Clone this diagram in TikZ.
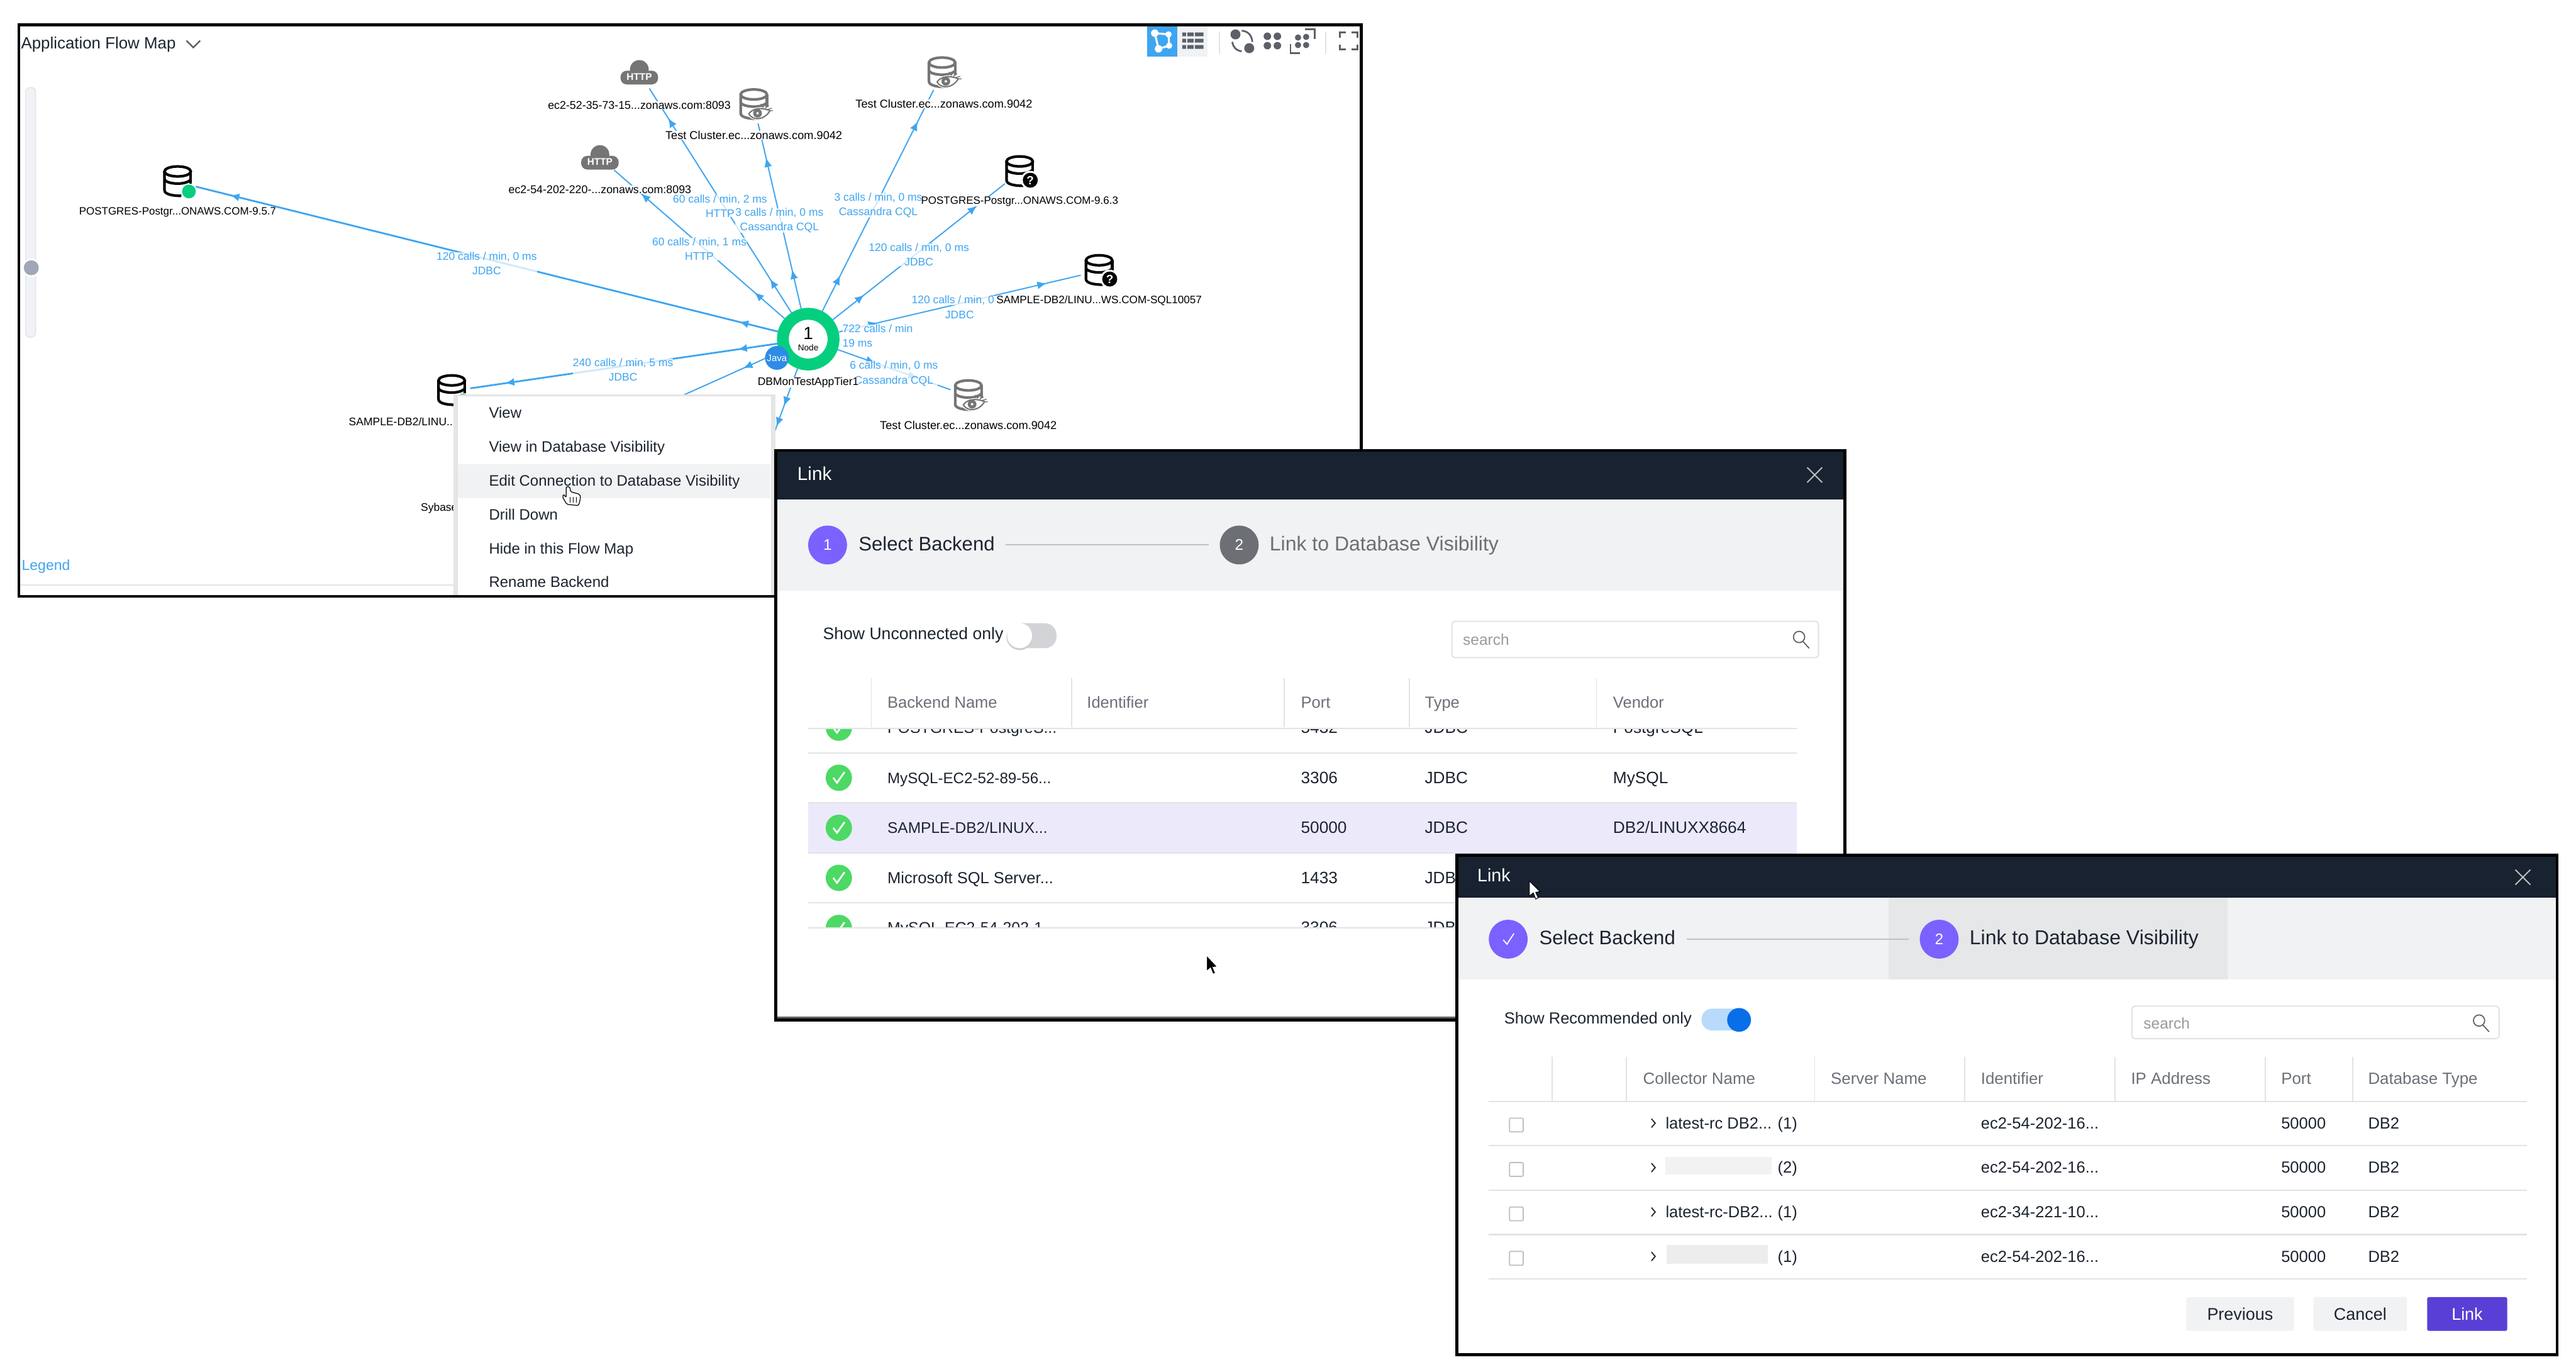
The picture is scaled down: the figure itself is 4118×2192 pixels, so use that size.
\documentclass[tikz,border=0pt]{standalone}
\usepackage{fontspec}
\setmainfont{Liberation Sans}
\usetikzlibrary{arrows.meta,decorations.markings}

\definecolor{flowblue}{HTML}{3FA5F0}
\definecolor{ringgreen}{HTML}{05CF7E}
\definecolor{javablue}{HTML}{2C8CE8}
\definecolor{cloudgray}{HTML}{757575}
\definecolor{toolgray}{HTML}{5C6068}
\definecolor{toolbg}{HTML}{F0F2F6}
\definecolor{headdark}{HTML}{182230}
\definecolor{bandgray}{HTML}{F1F2F4}
\definecolor{bandactive}{HTML}{E6E7E9}
\definecolor{stepviolet}{HTML}{7B61FF}
\definecolor{stepgray}{HTML}{6C6F73}
\definecolor{rowviolet}{HTML}{ECE9FB}
\definecolor{rulegray}{HTML}{E2E3E6}
\definecolor{inkdark}{HTML}{1C2430}
\definecolor{headink}{HTML}{6B7078}
\definecolor{okgreen}{HTML}{4CD964}
\definecolor{linkviolet}{HTML}{5A3FD6}
\definecolor{switchblue}{HTML}{0A6EEB}
\definecolor{switchpale}{HTML}{B9DBFB}
\definecolor{sliderknob}{HTML}{A0A7B8}

\tikzset{
  frame/.style={draw=black,line width=1.3pt},
  flow/.style={color=flowblue,line width=.55pt,postaction={decorate,decoration={markings,
      mark=at position .64cm with {\arrow{Latex[length=.15cm,width=.125cm]}},
      mark=at position -.56cm with {\arrow{Latex[length=.15cm,width=.125cm]}}}}},
  pics/dbcyl/.style={code={
      \draw[#1,line width=1.2pt] (0,-17) ellipse (21 and 8);
      \draw[#1,line width=1.2pt] (-21,-17) -- (-21,13) .. controls (-21,19) and (-10,22) .. (6,22);
      \draw[#1,line width=1.2pt] (-21,-4) .. controls (-18,3) and (12,6) .. (21,-4);
      \draw[#1,line width=1.2pt] (21,-17) -- (21,3);
  }},
  pics/dbgreen/.style={code={
      \pic {dbcyl=black};
      \fill[ringgreen] (18,15) circle (11);
  }},
  pics/dbask/.style={code={
      \pic {dbcyl=black};
      \fill[white] (17,13) circle (15);
      \fill[black] (17,13) circle (12);
      \node[white,inner sep=0,font=\bfseries\fontsize{5.4}{6}\selectfont] (-q) at (17,13) {?};
  }},
  pics/dbeye/.style={code={
      \pic {dbcyl=cloudgray};
      \fill[white] (-12,14) .. controls (-2,2) and (14,0) .. (30,8) -- (30,14) .. controls (16,28) and (-2,28) .. cycle;
      \draw[cloudgray,line width=.6pt] (-8,14) .. controls (-2,5) and (12,3) .. (26,9) .. controls (16,25) and (-2,25) .. cycle;
      \fill[cloudgray] (6,13) circle (7);
      \fill[white] (6,13) circle (2);
      \draw[cloudgray,line width=.4pt] (10,3) -- (12,-2) (14,4) -- (18,-1) (18,5) -- (24,1) (22,7) -- (29,5) (25,9) -- (31,9);
  }},
  pics/httpcloud/.style={code={
      \fill[cloudgray] (0,-5) circle (15);
      \fill[cloudgray,rounded corners=.1cm] (-30,-3) rectangle (30,19);
      \node[white,inner sep=0,font=\bfseries\fontsize{4.4}{5}\selectfont] (-t) at (0,7) {HTTP};
  }}
}

\begin{document}
\begin{tikzpicture}[x=.01cm,y=-.01cm]

  \useasboundingbox (0,0) rectangle (4118,2192);
  \fill[white] (0,0) rectangle (4118,2192);

  \fill[white] (30,40) rectangle (2176,953);
  \node[anchor=west,inner sep=0,text=inkdark,font=\fontsize{7.4}{9}\selectfont] (maptitle) at (33,71) {Application Flow Map};
  \draw[toolgray,line width=.7pt] (298,65) -- (309,76) -- (320,65);

  \fill[toolbg,draw=rulegray,rounded corners=.07cm] (41,140) rectangle (57,539);
  \fill[white] (50,428) circle (15);
  \fill[sliderknob] (50,428) circle (12);

  \fill[flowblue] (1834,42) rectangle (1882,90);
  \fill[toolbg] (1882,42) rectangle (1930,90);
  \draw[white,line width=.9pt] (1846,53) -- (1868,55) -- (1869,73) -- (1852,78) -- cycle;
  \fill[white] (1846,53) circle (6) (1868,55) circle (5) (1869,73) circle (5) (1852,78) circle (6);
  \fill[toolgray] (1890,52) rectangle (1896,58) (1898,52) rectangle (1908,58) (1910,52) rectangle (1924,58);
  \fill[toolgray] (1890,62) rectangle (1896,68) (1898,62) rectangle (1908,68) (1910,62) rectangle (1924,68);
  \fill[toolgray] (1890,72) rectangle (1896,78) (1898,72) rectangle (1908,78) (1910,72) rectangle (1924,78);
  \draw[rulegray,line width=.6pt] (1949,50) -- (1949,86) (2119,50) -- (2119,86);
  \fill[toolgray] (1975,55) circle (8) (1997,77) circle (8);
  \draw[toolgray,line width=.8pt] (1985,49) .. controls (1995,50) and (2001,56) .. (2002,67);
  \draw[toolgray,line width=.8pt] (1970,67) .. controls (1971,75) and (1976,81) .. (1985,82);
  \fill[toolgray] (2026,58) circle (6) (2042,58) circle (6) (2026,73) circle (6) (2042,73) circle (6);
  \fill[toolgray] (2075,60) circle (5) (2088,59) circle (5) (2075,72) circle (5) (2088,72) circle (5);
  \draw[toolgray,line width=.8pt] (2086,47) -- (2102,47) -- (2102,62) (2063,70) -- (2063,85) -- (2078,85);
  \draw[toolgray,line width=.8pt] (2142,60) -- (2142,52) -- (2151,52) (2161,52) -- (2170,52) -- (2170,60);
  \draw[toolgray,line width=.8pt] (2142,71) -- (2142,79) -- (2151,79) (2161,79) -- (2170,79) -- (2170,71);

  \begin{scope}[every node/.style={circle,inner sep=0,outer sep=0,minimum size=.6cm}]
    \node (pg957)  at (284,291)  {};
    \node (http52) at (1022,116) {};
    \node (http54) at (959,252)  {};
    \node (tca)    at (1205,168) {};
    \node (tcb)    at (1506,117) {};
    \node (pg963)  at (1630,275) {};
    \node (db2sql) at (1757,433) {};
    \node (tcc)    at (1548,633) {};
    \node (db2lin) at (722,625)  {};
  \end{scope}
  \coordinate (sybase) at (806,760);
  \coordinate (below) at (1222,735);
  \node[circle,inner sep=0,minimum size=.81cm,draw=ringgreen,line width=5.4pt,fill=white] (app) at (1292,542) {};

  \path (app) edge[flow,line width=.8pt] (pg957);
  \path (app) edge[flow] (http52);
  \path (app) edge[flow] (http54);
  \path (app) edge[flow] (tca);
  \path (app) edge[flow] (tcb);
  \path (app) edge[flow] (pg963);
  \path (app) edge[flow] (db2sql);
  \path (app) edge[flow] (tcc);
  \path (app) edge[flow,line width=.8pt] (db2lin);
  \path (app) edge[flow] (sybase);
  \path (app) edge[flow] (below);

  \node[circle,inner sep=0,minimum size=.38cm,fill=javablue,text=white,font=\fontsize{4.3}{5}\selectfont] (java) at (1242,572) {Java};
  \node[inner sep=0,font=\fontsize{8}{9}\selectfont] (appnum) at (1292,533) {1};
  \node[inner sep=0,font=\fontsize{3.9}{5}\selectfont] (appword) at (1292,556) {Node};

  \pic (pg957i) at (pg957) {dbgreen};
  \pic (http52i) at (http52) {httpcloud};
  \pic (http54i) at (http54) {httpcloud};
  \pic (tcai) at (tca) {dbeye};
  \pic (tcbi) at (tcb) {dbeye};
  \pic (pg963i) at (pg963) {dbask};
  \pic (db2sqli) at (db2sql) {dbask};
  \pic (tcci) at (tcc) {dbeye};
  \pic (db2lini) at (db2lin) {dbgreen};

  \begin{scope}[every node/.style={align=center,inner sep=0,text=flowblue,fill=white,fill opacity=.75,text opacity=1,font=\fontsize{5}{6.6}\selectfont}]
    \node (callsa) at (778,421)   {120 calls / min, 0 ms\\JDBC};
    \node (callsb) at (1151,329)  {60 calls / min, 2 ms\\HTTP};
    \node (callsc) at (1246,352)  {3 calls / min, 0 ms\\Cassandra CQL};
    \node (callsd) at (1404,328)  {3 calls / min, 0 ms\\Cassandra CQL};
    \node (callse) at (1118,398)  {60 calls / min, 1 ms\\HTTP};
    \node (callsf) at (1469,407)  {120 calls / min, 0 ms\\JDBC};
    \node[anchor=east] (callsg) at (1590,480) {120 calls / min, 0};
    \node (callsk) at (1534,503)  {JDBC};
    \node (callsh) at (1429,597)  {6 calls / min, 0 ms\\Cassandra CQL};
    \node (callsi) at (996,591)   {240 calls / min, 5 ms\\JDBC};
    \node[align=left,anchor=west] (callsj) at (1346,537) {722 calls / min\\19 ms};
  \end{scope}

  \begin{scope}[every node/.style={inner sep=0,fill=white,text=black,font=\fontsize{5}{6}\selectfont}]
    \node[font=\fontsize{4.85}{6}\selectfont] (pg957l) at (284,339) {POSTGRES-Postgr...ONAWS.COM-9.5.7};
    \node[font=\fontsize{5.1}{6}\selectfont] (http52l) at (1022,168) {ec2-52-35-73-15...zonaws.com:8093};
    \node[font=\fontsize{5.1}{6}\selectfont] (http54l) at (959,303) {ec2-54-202-220-...zonaws.com:8093};
    \node[font=\fontsize{5.2}{6}\selectfont] (tcal) at (1205,216) {Test Cluster.ec...zonaws.com.9042};
    \node[font=\fontsize{5.2}{6}\selectfont] (tcbl) at (1509,166) {Test Cluster.ec...zonaws.com.9042};
    \node[font=\fontsize{4.85}{6}\selectfont] (pg963l) at (1630,322) {POSTGRES-Postgr...ONAWS.COM-9.6.3};
    \node[font=\fontsize{4.9}{6}\selectfont] (db2sqll) at (1757,480) {SAMPLE-DB2/LINU...WS.COM-SQL10057};
    \node[font=\fontsize{5.2}{6}\selectfont] (tccl) at (1548,680) {Test Cluster.ec...zonaws.com.9042};
    \node (appl) at (1292,611) {DBMonTestAppTier1};
    \node[anchor=west] (db2linl) at (557,674) {SAMPLE-DB2/LINU...WS};
    \node[anchor=west] (sybasel) at (672,812) {Sybase};
  \end{scope}
  \node[anchor=west,inner sep=0,text=flowblue,font=\fontsize{6.6}{8}\selectfont] (legend) at (34,905) {Legend};
  \draw[rulegray,line width=.6pt] (32,935) -- (730,935);

  \fill[black!10] (725,630) rectangle (1240,953);
  \fill[white,draw=rulegray,line width=.5pt] (731,633) rectangle (1233,953);
  \fill[bandgray] (732,742) rectangle (1232,796);
  \begin{scope}[every node/.style={anchor=west,inner sep=0,text=inkdark,text height=.5em,text depth=0pt,font=\fontsize{6.87}{8}\selectfont}]
    \node (mview)   at (781,659) {View};
    \node (mvis)    at (781,714) {View in Database Visibility};
    \node (medit)   at (781,768) {Edit Connection to Database Visibility};
    \node (mdrill)  at (781,822) {Drill Down};
    \node (mhide)   at (781,876) {Hide in this Flow Map};
    \node (mrename) at (781,930) {Rename Backend};
  \end{scope}
  \draw[fill=white,line width=.35pt,rounded corners=.02cm] (905,778) -- (905,795) -- (901,790) -- (899,794) -- (906,806) -- (925,808) -- (928,796) -- (927,790) -- (912,786) -- (911,778) -- cycle;
  \draw[line width=.25pt] (911,794) -- (911,803) (916,794) -- (916,803) (921,794) -- (921,803);
  \draw[frame] (30,40) rectangle (2176,953);

  \fill[white] (1240,720) rectangle (2949,1630);
  \fill[headdark] (1240,720) rectangle (2949,798);
  \fill[bandgray] (1240,798) rectangle (2949,944);
  \node[anchor=west,inner sep=0,text=white,font=\fontsize{8.5}{10}\selectfont] (linktitle) at (1274,757) {Link};
  \draw[white!75!black,line width=.55pt] (2889,747) -- (2913,771) (2889,771) -- (2913,747);

  \begin{scope}[every node/.style={circle,inner sep=0,minimum size=.62cm,text=white,font=\fontsize{7}{8}\selectfont}]
    \node[fill=stepviolet] (stepa) at (1323,871) {1};
    \node[fill=stepgray] (stepb) at (1981,871) {2};
  \end{scope}
  \begin{scope}[every node/.style={anchor=west,inner sep=0,text height=.5em,text depth=0pt,font=\fontsize{8.9}{10}\selectfont}]
    \node[text=inkdark] (stepatxt) at (1372,871) {Select Backend};
    \node[text=stepgray,font=\fontsize{9.15}{10}\selectfont] (stepbtxt) at (2029,871) {Link to Database Visibility};
  \end{scope}
  \path (stepatxt.east) edge[rulegray!85!black,line width=.6pt,shorten <=.17cm,shorten >=.17cm] (stepb.west);

  \node[anchor=west,inner sep=0,text=inkdark,text height=.5em,text depth=0pt,font=\fontsize{7.6}{9}\selectfont] (unconn) at (1315,1013) {Show Unconnected only};
  \fill[rulegray!85!gray,rounded corners=.19cm] (1613,996) rectangle (1689,1036);
  \fill[black!20] (1630,1018) circle (21);
  \fill[white] (1630,1016) circle (20);
  \draw[rulegray,line width=.6pt,rounded corners=.05cm] (2321,993) rectangle (2907,1051);
  \node[anchor=west,inner sep=0,text=headink!70!white,font=\fontsize{7}{8}\selectfont] (searcha) at (2338,1022) {search};
  \draw[toolgray,line width=.5pt] (2876,1018) circle (9) (2882,1025) -- (2892,1036);

  \draw[rulegray,line width=.5pt] (1393,1084) -- (1393,1162) (1713,1084) -- (1713,1162) (2053,1084) -- (2053,1162) (2253,1084) -- (2253,1162) (2552,1084) -- (2552,1162);
  \begin{scope}[every node/.style={anchor=west,inner sep=0,text=headink,text height=.5em,text depth=0pt,font=\fontsize{7.3}{9}\selectfont}]
    \node (hname)   at (1418,1123) {Backend Name};
    \node (hident)  at (1737,1123) {Identifier};
    \node (hport)   at (2079,1123) {Port};
    \node (htype)   at (2277,1123) {Type};
    \node (hvendor) at (2578,1123) {Vendor};
  \end{scope}

  \fill[rowviolet] (1292,1283) rectangle (2872,1363);
  \begin{scope}
    \clip (1292,1165) rectangle (2872,1203);
    \fill[okgreen] (1341,1163) circle (21);
    \draw[white,line width=.8pt] (1332,1163) -- (1338,1171) -- (1350,1154);
    \begin{scope}[every node/.style={anchor=west,inner sep=0,text=inkdark,text height=.5em,text depth=0pt,font=\fontsize{7.5}{9}\selectfont}]
      \node[font=\fontsize{7.1}{9}\selectfont] (rowan) at (1418,1163) {POSTGRES-PostgreS...};
      \node (rowap) at (2079,1163) {5432};
      \node (rowat) at (2277,1163) {JDBC};
      \node (rowav) at (2578,1163) {PostgreSQL};
    \end{scope}
  \end{scope}
  \begin{scope}
    \clip (1292,1443) rectangle (2872,1482);
    \fill[okgreen] (1341,1483) circle (21);
    \draw[white,line width=.8pt] (1332,1483) -- (1338,1491) -- (1350,1474);
    \begin{scope}[every node/.style={anchor=west,inner sep=0,text=inkdark,text height=.5em,text depth=0pt,font=\fontsize{7.5}{9}\selectfont}]
      \node[font=\fontsize{7.1}{9}\selectfont] (rowen) at (1418,1483) {MySQL-EC2-54-202-1...};
      \node (rowep) at (2079,1483) {3306};
      \node (rowet) at (2277,1483) {JDBC};
    \end{scope}
  \end{scope}
  \begin{scope}[every node/.style={circle,inner sep=0,minimum size=.42cm,fill=okgreen}]
    \node (oka) at (1341,1243) {};
    \node (okb) at (1341,1323) {};
    \node (okc) at (1341,1403) {};
  \end{scope}
  \draw[white,line width=.8pt] (1332,1243) -- (1338,1251) -- (1350,1234);
  \draw[white,line width=.8pt] (1332,1323) -- (1338,1331) -- (1350,1314);
  \draw[white,line width=.8pt] (1332,1403) -- (1338,1411) -- (1350,1394);
  \begin{scope}[every node/.style={anchor=west,inner sep=0,text=inkdark,text height=.5em,text depth=0pt,font=\fontsize{7.5}{9}\selectfont}]
    \node[font=\fontsize{6.9}{9}\selectfont] (rowbn) at (1418,1243) {MySQL-EC2-52-89-56...};
    \node (rowbp) at (2079,1243) {3306};
    \node (rowbt) at (2277,1243) {JDBC};
    \node (rowbv) at (2578,1243) {MySQL};
    \node[font=\fontsize{7}{9}\selectfont] (rowcn) at (1418,1323) {SAMPLE-DB2/LINUX...};
    \node (rowcp) at (2079,1323) {50000};
    \node (rowct) at (2277,1323) {JDBC};
    \node (rowcv) at (2578,1323) {DB2/LINUXX8664};
    \node[font=\fontsize{7.3}{9}\selectfont] (rowdn) at (1418,1403) {Microsoft SQL Server...};
    \node (rowdp) at (2079,1403) {1433};
    \node (rowdt) at (2277,1403) {JDBC};
  \end{scope}
  \draw[rulegray,line width=.6pt] (1292,1164) -- (2872,1164) (1292,1203) -- (2872,1203) (1292,1283) -- (2872,1283) (1292,1363) -- (2872,1363) (1292,1443) -- (2872,1443) (1292,1483) -- (2872,1483);
  \draw[fill=black,draw=white,line width=.3pt] (1929,1527) -- (1929,1552) -- (1935,1547) -- (1939,1557) -- (1943,1555) -- (1939,1546) -- (1946,1545) -- cycle;
  \fill[toolgray] (1240,1625) rectangle (2949,1630);
  \draw[frame] (1240,720) rectangle (2949,1630);

  \fill[white] (2329,1367) rectangle (4088,2165);
  \fill[headdark] (2329,1367) rectangle (4088,1435);
  \fill[bandgray] (2329,1435) rectangle (4088,1565);
  \fill[bandactive] (3019,1435) rectangle (3561,1565);
  \node[anchor=west,inner sep=0,text=white,font=\fontsize{8.2}{10}\selectfont] (linktitleb) at (2361,1399) {Link};
  \draw[white!75!black,line width=.55pt] (4021,1390) -- (4045,1414) (4021,1414) -- (4045,1390);
  \draw[fill=white,draw=black,line width=.3pt] (2445,1408) -- (2445,1432) -- (2451,1427) -- (2455,1437) -- (2459,1435) -- (2455,1426) -- (2462,1425) -- cycle;

  \begin{scope}[every node/.style={circle,inner sep=0,minimum size=.62cm,fill=stepviolet,text=white,font=\fontsize{7}{8}\selectfont}]
    \node (stepc) at (2411,1501) {};
    \node (stepd) at (3100,1501) {2};
  \end{scope}
  \draw[white,line width=.5pt] (2403,1502) -- (2409,1509) -- (2420,1492);
  \begin{scope}[every node/.style={anchor=west,inner sep=0,text=inkdark,text height=.5em,text depth=0pt,font=\fontsize{8.9}{10}\selectfont}]
    \node (stepctxt) at (2460,1501) {Select Backend};
    \node[font=\fontsize{9.15}{10}\selectfont] (stepdtxt) at (3148,1501) {Link to Database Visibility};
  \end{scope}
  \path (stepctxt.east) edge[rulegray!85!black,line width=.6pt,shorten <=.17cm,shorten >=.17cm] (stepd.west);

  \node[anchor=west,inner sep=0,text=inkdark,text height=.5em,text depth=0pt,font=\fontsize{7.3}{9}\selectfont] (recomm) at (2404,1627) {Show Recommended only};
  \fill[switchpale,rounded corners=.17cm] (2720,1612) rectangle (2799,1647);
  \fill[switchblue] (2780,1630) circle (19);
  \draw[rulegray,line width=.6pt,rounded corners=.05cm] (3408,1608) rectangle (3995,1660);
  \node[anchor=west,inner sep=0,text=headink!70!white,font=\fontsize{7}{8}\selectfont] (searchb) at (3426,1635) {search};
  \draw[toolgray,line width=.5pt] (3963,1631) circle (9) (3969,1638) -- (3979,1649);

  \draw[rulegray,line width=.5pt] (2481,1689) -- (2481,1759) (2600,1689) -- (2600,1759) (2901,1689) -- (2901,1759) (3141,1689) -- (3141,1759) (3381,1689) -- (3381,1759) (3621,1689) -- (3621,1759) (3761,1689) -- (3761,1759);
  \begin{scope}[every node/.style={anchor=west,inner sep=0,text=headink,text height=.5em,text depth=0pt,font=\fontsize{7.4}{9}\selectfont}]
    \node (hcoll)   at (2626,1724) {Collector Name};
    \node (hserver) at (2926,1724) {Server Name};
    \node (hidb)    at (3166,1724) {Identifier};
    \node (hip)     at (3406,1724) {IP Address};
    \node (hportb)  at (3646,1724) {Port};
    \node (hdbtype) at (3785,1724) {Database Type};
  \end{scope}
  \draw[rulegray,line width=.6pt] (2380,1760) -- (4040,1760) (2380,1831) -- (4040,1831) (2380,1902) -- (4040,1902) (2380,1973) -- (4040,1973) (2380,2044) -- (4040,2044);

  \draw[black!25,line width=.5pt,rounded corners=.02cm] (2413,1787) rectangle (2435,1809);
  \draw[black!25,line width=.5pt,rounded corners=.02cm] (2413,1858) rectangle (2435,1880);
  \draw[black!25,line width=.5pt,rounded corners=.02cm] (2413,1929) rectangle (2435,1951);
  \draw[black!25,line width=.5pt,rounded corners=.02cm] (2413,2000) rectangle (2435,2022);
  \draw[inkdark,line width=.5pt] (2640,1788) -- (2646,1795) -- (2640,1802);
  \draw[inkdark,line width=.5pt] (2640,1859) -- (2646,1866) -- (2640,1873);
  \draw[inkdark,line width=.5pt] (2640,1930) -- (2646,1937) -- (2640,1944);
  \draw[inkdark,line width=.5pt] (2640,2001) -- (2646,2008) -- (2640,2015);
  \fill[black!5] (2662,1849) rectangle (2832,1877);
  \fill[black!7] (2664,1990) rectangle (2826,2020);
  \begin{scope}[every node/.style={anchor=west,inner sep=0,text=inkdark,text height=.5em,text depth=0pt,font=\fontsize{7.3}{9}\selectfont}]
    \node (colla) at (2662,1795) {latest-rc DB2...};
    \node (cnta)  at (2841,1795) {(1)};
    \node (ida)   at (3166,1795) {ec2-54-202-16...};
    \node (porta) at (3646,1795) {50000};
    \node (typea) at (3785,1795) {DB2};
    \node (cntb)  at (2841,1866) {(2)};
    \node (idb)   at (3166,1866) {ec2-54-202-16...};
    \node (portb) at (3646,1866) {50000};
    \node (typeb) at (3785,1866) {DB2};
    \node (collc) at (2662,1937) {latest-rc-DB2...};
    \node (cntc)  at (2841,1937) {(1)};
    \node (idc)   at (3166,1937) {ec2-34-221-10...};
    \node (portc) at (3646,1937) {50000};
    \node (typec) at (3785,1937) {DB2};
    \node (cntd)  at (2841,2008) {(1)};
    \node (idd)   at (3166,2008) {ec2-54-202-16...};
    \node (portd) at (3646,2008) {50000};
    \node (typed) at (3785,2008) {DB2};
  \end{scope}

  \begin{scope}[every node/.style={rectangle,inner sep=0,rounded corners=.03cm,minimum height=.54cm,font=\fontsize{7.7}{9}\selectfont}]
    \node[fill=bandgray,text=inkdark,minimum width=1.72cm] (prevbtn) at (3581,2100) {Previous};
    \node[fill=bandgray,text=inkdark,minimum width=1.49cm] (cancelbtn) at (3773,2100) {Cancel};
    \node[fill=linkviolet,text=white,minimum width=1.28cm] (linkbtn) at (3944,2100) {Link};
  \end{scope}
  \draw[frame] (2329,1367) rectangle (4088,2165);

\end{tikzpicture}
\end{document}
